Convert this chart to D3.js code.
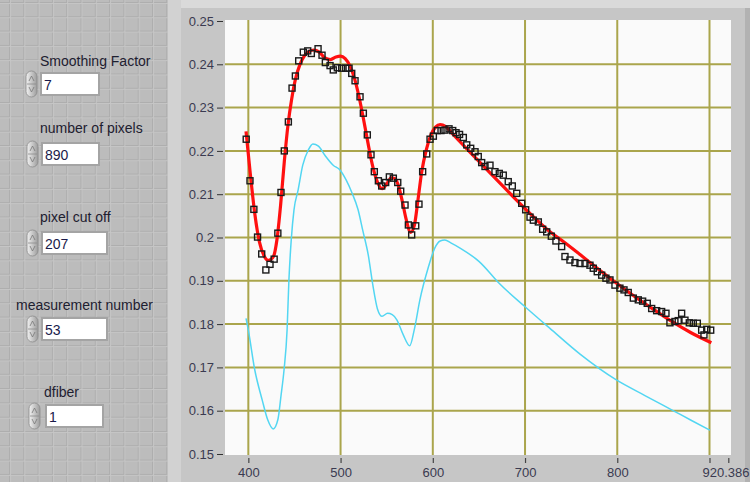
<!DOCTYPE html>
<html><head><meta charset="utf-8">
<script src="https://cdn.jsdelivr.net/npm/d3@7"></script>
<style>html,body{margin:0;padding:0;background:#c6c6c6;overflow:hidden}svg{display:block}</style>
</head><body>
<svg id="chart" width="750" height="482"></svg>
<script>
// ---------- data ----------
const xDomain = [374.7, 920.386];
const yDomain = [0.15, 0.25];
const xTicks = [400, 500, 600, 700, 800, 900];
const xTickLabels = ["400", "500", "600", "700", "800", ""];
const xEndLabel = "920.386";
const yTicks = [0.15, 0.16, 0.17, 0.18, 0.19, 0.2, 0.21, 0.22, 0.23, 0.24, 0.25];
const yTickLabels = ["0.15", "0.16", "0.17", "0.18", "0.19", "0.2", "0.21", "0.22", "0.23", "0.24", "0.25"];

const measWl = [397.7,401.8,406.0,410.0,414.5,419.0,423.5,428.0,432.0,435.4,439.0,443.4,447.4,451.0,454.6,459.6,464.4,468.3,475.6,479.9,483.5,488.6,492.1,496.5,501.2,505.6,509.2,512.1,515.7,521.1,524.7,529.0,533.0,536.6,541.0,544.6,548.9,552.9,557.2,562.0,565.2,569.9,573.5,577.1,581.5,585.0,589.0,593.4,597.0,600.6,604.9,608.9,613.2,617.6,621.6,625.2,629.0,633.1,636.8,641.1,645.8,649.3,653.0,656.6,662.0,667.4,672.1,676.4,681.8,686.2,691.0,696.4,700.7,705.4,709.0,714.4,719.1,723.5,728.5,733.5,739.7,743.3,748.7,754.1,759.6,765.0,770.4,774.0,778.3,783.1,787.7,792.1,797.5,802.9,807.3,811.9,817.4,822.8,827.5,832.5,837.3,842.7,848.1,852.8,857.1,862.5,866.1,869.8,873.4,878.1,882.4,886.8,891.5,894.0,897.0,901.3];
const measVal = [0.2227,0.2131,0.2065,0.2001,0.1962,0.1925,0.1938,0.1950,0.2010,0.2104,0.2200,0.2267,0.2345,0.2373,0.2408,0.2428,0.2431,0.2425,0.2436,0.2421,0.2404,0.2397,0.2387,0.2392,0.2391,0.2391,0.2391,0.2379,0.2362,0.2325,0.2287,0.2237,0.2191,0.2152,0.2131,0.2119,0.2127,0.2140,0.2137,0.2127,0.2107,0.2075,0.2029,0.2006,0.2027,0.2077,0.2152,0.2193,0.2227,0.2234,0.2247,0.2247,0.2248,0.2251,0.2247,0.2242,0.2238,0.2231,0.2214,0.2206,0.2198,0.2187,0.2173,0.2164,0.2167,0.2152,0.2148,0.2144,0.2129,0.2119,0.2102,0.2079,0.2064,0.2047,0.2040,0.2036,0.2019,0.2013,0.2003,0.1992,0.1979,0.1956,0.1948,0.1942,0.1940,0.1940,0.1936,0.1929,0.1921,0.1913,0.1906,0.1902,0.1890,0.1883,0.1879,0.1873,0.1860,0.1856,0.1853,0.1848,0.1836,0.1831,0.1829,0.1825,0.1803,0.1806,0.1808,0.1825,0.1809,0.1803,0.1802,0.1802,0.1786,0.1775,0.1788,0.1786];

const fitWl = [397.5,402,407,412,417,422,427,431,435,439,443,447,451,456,461,466,471,477,483,489,495,500,505,510,515,520,525,530,535,540,545,550,555,559,563,567,571,576,580,584,588,593,598,603,608,614,620,630,640,655,670,690,710,727,740,760,780,800,820,840,860,880,902];
const fitVal = [0.2245,0.2150,0.2055,0.1990,0.1958,0.1947,0.1955,0.1995,0.2075,0.2175,0.2260,0.2320,0.2365,0.2400,0.2420,0.2430,0.2433,0.2428,0.2415,0.2411,0.2417,0.2419,0.2413,0.2397,0.2368,0.2325,0.2272,0.2215,0.2163,0.2128,0.2113,0.2124,0.2138,0.2136,0.2118,0.2083,0.2043,0.2012,0.2028,0.2088,0.2152,0.2203,0.2237,0.2255,0.2261,0.2256,0.2243,0.2220,0.2198,0.2165,0.2132,0.2088,0.2046,0.2013,0.1993,0.1960,0.1926,0.1893,0.1862,0.1833,0.1805,0.1780,0.1757];

const refWl = [397.5,400,407,415,421,427,432,435.5,438.7,442,444,446.5,449.5,454,459,465,470,476,483,492,499.4,506,512,519,524,530,535,540,545,551,556,561,568,575,580,586,595,602,608,613,620,630,650,673,700,727,760,799,830,862.5,880,900.5];
const refVal = [0.1813,0.1786,0.1694,0.1625,0.1579,0.1558,0.1579,0.1636,0.1694,0.1786,0.1902,0.1994,0.2064,0.2110,0.2167,0.2202,0.2216,0.2211,0.2190,0.2167,0.2156,0.2133,0.2105,0.2064,0.2017,0.1960,0.1890,0.1835,0.1818,0.1825,0.1822,0.1810,0.1775,0.1750,0.1788,0.1856,0.1930,0.1975,0.1992,0.1994,0.1987,0.1975,0.1945,0.1892,0.1840,0.1790,0.1730,0.1671,0.1635,0.1598,0.1578,0.1555];

const controlLabels = ["Smoothing Factor", "number of pixels", "pixel cut off", "measurement number", "dfiber"];
const controlValues = ["7", "890", "207", "53", "1"];

// ---------- layout ----------
const svg = d3.select("#chart");
const W = 750, H = 482;
const plot = {left: 225, top: 20, right: 731, bottom: 455};

// left panel with grid
const defs = svg.append("defs");
const pat = defs.append("pattern").attr("id", "grid").attr("patternUnits", "userSpaceOnUse")
  .attr("width", 14.3).attr("height", 14.3).attr("x", 9).attr("y", 2);
pat.append("rect").attr("width", 14.3).attr("height", 14.3).attr("fill", "#bcbcbc");
pat.append("path").attr("d", "M0,0.5H14.3M0.5,0V14.3").attr("stroke", "#adadad").attr("stroke-width", 1);
pat.append("path").attr("d", "M0,1.5H14.3M1.5,0V14.3").attr("stroke", "#c6c6c6").attr("stroke-width", 1);

svg.append("rect").attr("x", 0).attr("y", 0).attr("width", 168).attr("height", H).attr("fill", "url(#grid)");
svg.append("rect").attr("x", 168).attr("y", 0).attr("width", W - 168).attr("height", H).attr("fill", "#c6c6c6");
svg.append("rect").attr("x", 168).attr("y", 0).attr("width", W - 168).attr("height", 8).attr("fill", "#dadada");
svg.append("rect").attr("x", 168).attr("y", 0).attr("width", 13).attr("height", H).attr("fill", "#d2d2d2");
svg.append("rect").attr("x", 745).attr("y", 8).attr("width", 5).attr("height", H).attr("fill", "#b2b2b2");

// controls
const ctrlY = [66, 133, 222, 310, 397];
const labelX = [40, 40, 40, 16, 44];
const boxX = [42, 43, 43, 43, 47];
const boxW = [56, 55, 63, 63, 55];
const boxTop = [74, 144, 233, 319, 406];
const spinX = [26, 27, 27, 27, 29];
const grad = defs.append("linearGradient").attr("id", "spin").attr("x1", 0).attr("x2", 1);
grad.append("stop").attr("offset", "0").attr("stop-color", "#f2f2f2");
grad.append("stop").attr("offset", "1").attr("stop-color", "#9c9c9c");

controlLabels.forEach((lab, i) => {
  svg.append("text").attr("x", labelX[i]).attr("y", ctrlY[i]).text(lab)
    .attr("font-family", "Liberation Sans, Arial, sans-serif").attr("font-size", 14).attr("fill", "#1e2030");
  const by = boxTop[i];
  svg.append("rect").attr("x", boxX[i] - 2).attr("y", by - 2).attr("width", boxW[i] + 4).attr("height", 24)
    .attr("fill", "#a4a4a4");
  svg.append("rect").attr("x", boxX[i]).attr("y", by).attr("width", boxW[i]).attr("height", 20).attr("fill", "#ffffff");
  svg.append("text").attr("x", boxX[i] + 2).attr("y", by + 16).text(controlValues[i])
    .attr("font-family", "Liberation Sans, Arial, sans-serif").attr("font-size", 14).attr("fill", "#1a1a4a");
  const sx = spinX[i], sy = by - 3;
  svg.append("rect").attr("x", sx).attr("y", sy).attr("width", 11).attr("height", 26).attr("rx", 5.5)
    .attr("fill", "url(#spin)").attr("stroke", "#8a8a8a").attr("stroke-width", 0.8);
  svg.append("line").attr("x1", sx + 1).attr("x2", sx + 10).attr("y1", sy + 13).attr("y2", sy + 13).attr("stroke", "#8a8a8a").attr("stroke-width", 0.8);
  svg.append("path").attr("d", `M${sx+3},${sy+10}L${sx+5.5},${sy+5}L${sx+8},${sy+10}`).attr("fill", "none").attr("stroke", "#777").attr("stroke-width", 0.8);
  svg.append("path").attr("d", `M${sx+3},${sy+16}L${sx+5.5},${sy+21}L${sx+8},${sy+16}`).attr("fill", "none").attr("stroke", "#777").attr("stroke-width", 0.8);
});

// plot area
svg.append("rect").attr("x", plot.left).attr("y", plot.top).attr("width", plot.right - plot.left)
  .attr("height", plot.bottom - plot.top).attr("fill", "#fafafa");

const x = d3.scaleLinear().domain(xDomain).range([plot.left, 728.3]);
const y = d3.scaleLinear().domain(yDomain).range([454, 21]);

const clip = defs.append("clipPath").attr("id", "clip");
clip.append("rect").attr("x", plot.left).attr("y", plot.top).attr("width", plot.right - plot.left).attr("height", plot.bottom - plot.top);

const gridColor = "#aaa54c";
const g = svg.append("g").attr("clip-path", "url(#clip)");
g.selectAll(".vg").data(xTicks).join("line").attr("x1", d => x(d)).attr("x2", d => x(d))
  .attr("y1", plot.top).attr("y2", plot.bottom).attr("stroke", gridColor).attr("stroke-width", 2);
g.selectAll(".hg").data(yTicks.slice(1, -1)).join("line").attr("y1", d => y(d)).attr("y2", d => y(d))
  .attr("x1", plot.left).attr("x2", plot.right).attr("stroke", gridColor).attr("stroke-width", 2);

const line = d3.line().curve(d3.curveMonotoneX).x(d => x(d[0])).y(d => y(d[1]));
g.append("path").datum(refWl.map((w, i) => [w, refVal[i]])).attr("d", line)
  .attr("fill", "none").attr("stroke", "#52d6f2").attr("stroke-width", 1.5);
g.append("path").datum(fitWl.map((w, i) => [w, fitVal[i]])).attr("d", line)
  .attr("fill", "none").attr("stroke", "#ff1010").attr("stroke-width", 3.2);
g.selectAll(".m").data(measWl.map((w, i) => [w, measVal[i]])).join("rect")
  .attr("x", d => x(d[0]) - 3).attr("y", d => y(d[1]) - 3).attr("width", 6).attr("height", 6)
  .attr("fill", "none").attr("stroke", "#1a1a1a").attr("stroke-width", 1.4);

// axes
const font = "Liberation Sans, Arial, sans-serif";
const yAxis = d3.axisLeft(y).tickValues(yTicks).tickSize(6).tickPadding(3)
  .tickFormat((d, i) => yTickLabels[i]);
const ya = svg.append("g").attr("transform", `translate(${plot.left - 2},0)`).call(yAxis);
ya.select(".domain").remove();
ya.selectAll("line").attr("stroke", "#333");
ya.selectAll("text").attr("font-family", font).attr("font-size", 13).attr("fill", "#3a3a50");

const xAxis = d3.axisBottom(x).tickValues(xTicks.concat([xDomain[1]])).tickSize(5).tickPadding(5)
  .tickFormat((d, i) => i < xTickLabels.length ? xTickLabels[i] : xEndLabel);
const xa = svg.append("g").attr("transform", `translate(0,${plot.bottom + 3})`).call(xAxis);
xa.select(".domain").remove();
xa.selectAll("line").attr("stroke", "#444").attr("stroke-width", 1.2);
xa.selectAll("text").attr("font-family", font).attr("font-size", 13).attr("fill", "#3a3a50");
// keep the end label inside the window, as in the reference
xa.selectAll(".tick").filter(d => d === xDomain[1]).select("text")
  .attr("text-anchor", "end").attr("x", W - 1 - x(xDomain[1]));
</script>
</body></html>
